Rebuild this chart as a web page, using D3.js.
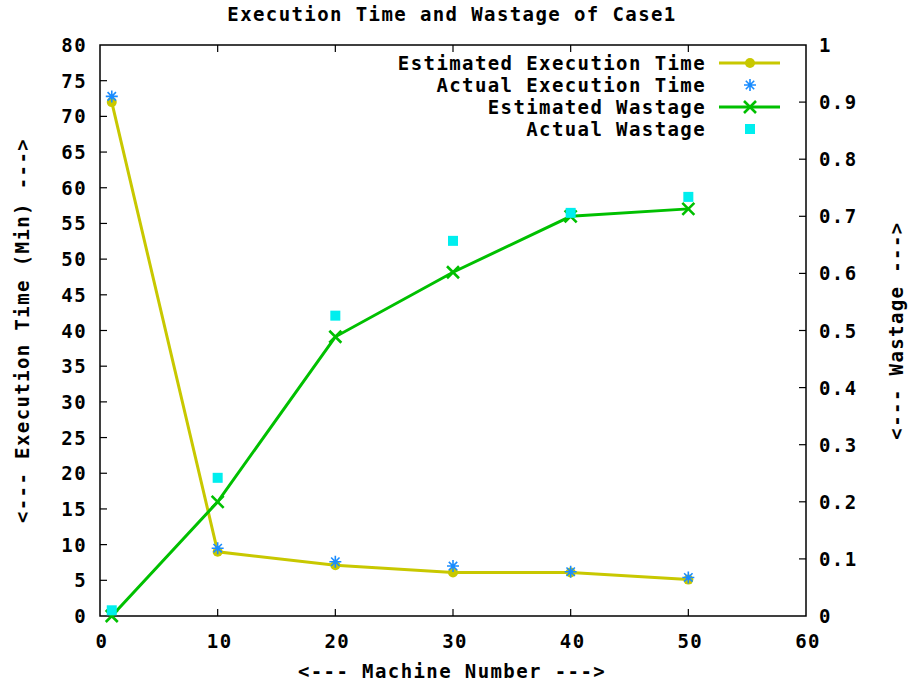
<!DOCTYPE html>
<html>
<head>
<meta charset="utf-8">
<script src="https://cdn.jsdelivr.net/npm/d3@7"></script>
<style>
  body { margin: 0; background: #fff; }
  text { font-family: "DejaVu Sans Mono", "Liberation Mono", monospace; font-size: 19px; font-weight: bold; letter-spacing: 1.4px; fill: #000; }
</style>
</head>
<body>
<div id="chart"></div>
<script>
// machines on the x axis
const machines = [1, 10, 20, 30, 40, 50];
const estTime = [72, 9, 7.1, 6.1, 6.1, 5.1];
const actTime = [72.8, 9.5, 7.6, 7.0, 6.2, 5.4];
const estWaste = [0.0, 0.2, 0.489, 0.602, 0.700, 0.713];
const actWaste = [0.01, 0.242, 0.526, 0.657, 0.706, 0.734];

const xTicks = [0, 10, 20, 30, 40, 50, 60];
const yTicks = d3.range(0, 81, 5);
const y2Ticks = d3.range(0, 1.01, 0.1);

const W = 915, H = 682;
const m = { left: 100, right: 109, top: 45, bottom: 66 };

const svg = d3.select('#chart').append('svg')
  .attr('width', W).attr('height', H);

const x = d3.scaleLinear().domain([0, 60]).range([m.left, W - m.right]);
const y = d3.scaleLinear().domain([0, 80]).range([H - m.bottom, m.top]);
const y2 = d3.scaleLinear().domain([0, 1]).range([H - m.bottom, m.top]);

const tick = 7;

// frame
svg.append('rect')
  .attr('x', x(0)).attr('y', y(80))
  .attr('width', x(60) - x(0)).attr('height', y(0) - y(80))
  .attr('fill', 'none').attr('stroke', '#000').attr('stroke-width', 1.5);

const g = svg.append('g').attr('stroke', '#000').attr('stroke-width', 1.2);
// x ticks bottom + top
xTicks.slice(1, -1).forEach(v => {
  g.append('line').attr('x1', x(v)).attr('x2', x(v)).attr('y1', y(0)).attr('y2', y(0) - tick);
  g.append('line').attr('x1', x(v)).attr('x2', x(v)).attr('y1', y(80)).attr('y2', y(80) + tick);
});
yTicks.slice(1, -1).forEach(v => {
  g.append('line').attr('x1', x(0)).attr('x2', x(0) + tick).attr('y1', y(v)).attr('y2', y(v));
});
y2Ticks.slice(1, -1).forEach(v => {
  g.append('line').attr('x1', x(60)).attr('x2', x(60) - tick).attr('y1', y2(v)).attr('y2', y2(v));
});

// tick labels
svg.selectAll('.xl').data(xTicks).join('text')
  .attr('x', d => x(d) + 2).attr('y', y(0) + 32)
  .attr('text-anchor', 'middle').text(d => d);
svg.selectAll('.yl').data(yTicks).join('text')
  .attr('x', x(0) - 13).attr('y', d => y(d) + 7)
  .attr('text-anchor', 'end').text(d => d);
svg.selectAll('.y2l').data(y2Ticks).join('text')
  .attr('x', x(60) + 13).attr('y', d => y2(d) + 7)
  .attr('text-anchor', 'start').text(d => d3.format('.1~f')(d));

// titles
svg.append('text').attr('x', 452).attr('y', 21).attr('text-anchor', 'middle')
  .text('Execution Time and Wastage of Case1');
svg.append('text').attr('x', 452).attr('y', 678).attr('text-anchor', 'middle')
  .text('<--- Machine Number --->');
svg.append('text').attr('transform', `translate(29,${(y(0) + y(80)) / 2}) rotate(-90)`)
  .attr('text-anchor', 'middle').text('<--- Execution Time (Min) --->');
svg.append('text').attr('transform', `translate(903,${(y(0) + y(80)) / 2}) rotate(-90)`)
  .attr('text-anchor', 'middle').text('<--- Wastage --->');

const yellow = '#c8c800', blue = '#1a8cff', green = '#00c000', cyan = '#00eeee';

// markers
function circleMark(sel, cx, cy) {
  sel.append('circle').attr('cx', cx).attr('cy', cy).attr('r', 5).attr('fill', yellow);
}
function starMark(sel, cx, cy) {
  const s = 6;
  sel.append('path')
    .attr('d', `M${cx - s},${cy}H${cx + s}M${cx},${cy - s}V${cy + s}M${cx - s * 0.7},${cy - s * 0.7}L${cx + s * 0.7},${cy + s * 0.7}M${cx - s * 0.7},${cy + s * 0.7}L${cx + s * 0.7},${cy - s * 0.7}`)
    .attr('stroke', blue).attr('stroke-width', 1.6).attr('fill', 'none');
}
function crossMark(sel, cx, cy) {
  const s = 6;
  sel.append('path')
    .attr('d', `M${cx - s},${cy - s}L${cx + s},${cy + s}M${cx - s},${cy + s}L${cx + s},${cy - s}`)
    .attr('stroke', green).attr('stroke-width', 2.6).attr('fill', 'none');
}
function squareMark(sel, cx, cy) {
  sel.append('rect').attr('x', cx - 5).attr('y', cy - 5).attr('width', 10).attr('height', 10).attr('fill', cyan);
}

const plot = svg.append('g');
const lineT = d3.line().x((d, i) => x(machines[i])).y(d => y(d));
const lineW = d3.line().x((d, i) => x(machines[i])).y(d => y2(d));

plot.append('path').attr('d', lineT(estTime)).attr('fill', 'none')
  .attr('stroke', yellow).attr('stroke-width', 3);
estTime.forEach((v, i) => circleMark(plot, x(machines[i]), y(v)));
actTime.forEach((v, i) => starMark(plot, x(machines[i]), y(v)));

plot.append('path').attr('d', lineW(estWaste)).attr('fill', 'none')
  .attr('stroke', green).attr('stroke-width', 3);
estWaste.forEach((v, i) => crossMark(plot, x(machines[i]), y2(v)));
actWaste.forEach((v, i) => squareMark(plot, x(machines[i]), y2(v)));

// legend
const legend = [
  { label: 'Estimated Execution Time', line: yellow, mark: circleMark },
  { label: 'Actual Execution Time', line: null, mark: starMark },
  { label: 'Estimated Wastage', line: green, mark: crossMark },
  { label: 'Actual Wastage', line: null, mark: squareMark }
];
legend.forEach((d, i) => {
  const ly = 63 + i * 22;
  svg.append('text').attr('x', 706).attr('y', ly + 7).attr('text-anchor', 'end').text(d.label);
  if (d.line) {
    svg.append('line').attr('x1', 719).attr('x2', 780).attr('y1', ly).attr('y2', ly)
      .attr('stroke', d.line).attr('stroke-width', 3);
  }
  d.mark(svg, 750, ly);
});
</script>
</body>
</html>
